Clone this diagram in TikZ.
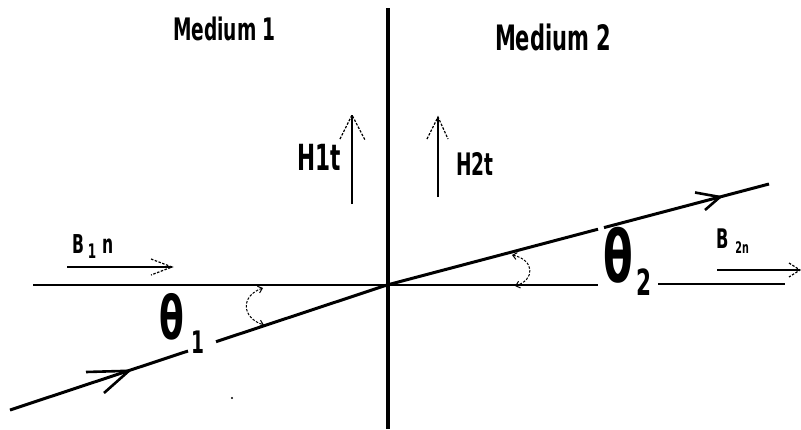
\documentclass[tikz,border=0pt]{standalone}
\usepackage{fontspec}
\newfontfamily\cf[FakeStretch=0.6]{DejaVu Sans}
\usetikzlibrary{arrows.meta}
\begin{document}
\begin{tikzpicture}[x=1pt,y=-1pt,
  every node/.style={inner sep=0pt,outer sep=0pt},
  lbl/.style={font=\cf\bfseries\fontsize{#1}{#1}\selectfont, anchor=base west},
  axisline/.style={line width=1.4pt},
  ray/.style={line width=3pt},
  wall/.style={line width=4pt},
  vec/.style={line width=1.2pt},
  barb/.style={line width=1.2pt, dash pattern=on 2.5pt off 1.5pt},
  rayhead/.style={line width=2.6pt},
  arcmark/.style={line width=1pt, dash pattern=on 2.5pt off 1.5pt,
    {Straight Barb[length=4pt,width=7pt]}-{Straight Barb[length=4pt,width=7pt]}},
]
\useasboundingbox (0,0) rectangle (801,429);
\fill[white] (0,0) rectangle (801,429);

% labels
\node[lbl=31] (m1) at (173,40) {Medium 1};
\node[lbl=35] (m2) at (495,50) {Medium 2};
\node[lbl=36] (h1) at (297,170) {H1t};
\node[lbl=31] (h2) at (456,175) {H2t};
\node[lbl=26] (b1) at (72,253) {B\hspace{4pt}\raisebox{-5pt}{\fontsize{20}{20}\selectfont 1}\hspace{6pt}n};
\node[lbl=27] (b2) at (716,248) {B\hspace{7pt}\raisebox{-5pt}{\fontsize{16}{16}\selectfont 2n}};
\node[lbl=60] (t1) at (159,339) {θ\hspace{8pt}\raisebox{-14pt}{\fontsize{31}{31}\selectfont 1}};
\node[lbl=72] (t2) at (603,282) {θ\hspace{4pt}\raisebox{-13pt}{\fontsize{36}{36}\selectfont 2}};

% boundary
\coordinate (wt) at (388,8);
\coordinate (wb) at (388,429);
\draw[wall] (wt) -- (wb);

% normal line
\coordinate (O) at (387,285);
\coordinate (hl) at (33,285);
\coordinate (hg1) at (598,285);
\coordinate (hg2) at (658,284);
\coordinate (hr) at (785,284);
\draw[axisline] (hl) -- (hg1);
\draw[axisline] (hg2) -- (hr);

% ray
\coordinate (r0) at (10,410);
\coordinate (r1) at (188,351);
\coordinate (r2) at (216,341.7);
\coordinate (r3) at (598,229.2);
\coordinate (r4) at (604,227.6);
\coordinate (r5) at (769,184);
\draw[ray] (r0) -- (r1);
\draw[ray] (r2) -- (O) -- (r3);
\draw[ray] (r4) -- (r5);
% ray arrowheads
\coordinate (a1) at (129,370.8);
\draw[rayhead] (86,372) -- (a1);
\draw[rayhead] (104,393) -- (a1);
\coordinate (a2) at (720,197);
\draw[rayhead] (695,192.5) -- (a2);
\draw[rayhead] (705,210) -- (a2);

% B1n arrow
\coordinate (b1s) at (67,267);
\coordinate (b1e) at (172,267);
\draw[vec] (b1s) -- (b1e);
\draw[barb] (151,259) -- (b1e) -- (151,275);
% B2n arrow
\coordinate (b2s) at (717,270);
\coordinate (b2e) at (800,270);
\draw[vec] (b2s) -- (b2e);
\draw[barb] (789,263) -- (b2e) -- (789,277);

% H1t arrow
\coordinate (h1s) at (352,204);
\coordinate (h1e) at (352,115);
\draw[vec] (h1s) -- (h1e);
\draw[barb] (340,139) -- (h1e) -- (365,140);
% H2t arrow
\coordinate (h2s) at (438,197);
\coordinate (h2e) at (438,117);
\draw[vec] (h2s) -- (h2e);
\draw[barb] (427,139) -- (h2e) -- (448,139);

% angle marks
\coordinate (ang1a) at (263,288);
\coordinate (ang1b) at (264,325);
\draw[arcmark] (ang1a) .. controls (240,296) and (242,318) .. (ang1b);
\coordinate (ang2a) at (512,255);
\coordinate (ang2b) at (515,286);
\draw[arcmark] (ang2a) .. controls (535,260) and (535,280) .. (ang2b);

% stray dot
\fill (232,398) circle (1.1);
\end{tikzpicture}
\end{document}
